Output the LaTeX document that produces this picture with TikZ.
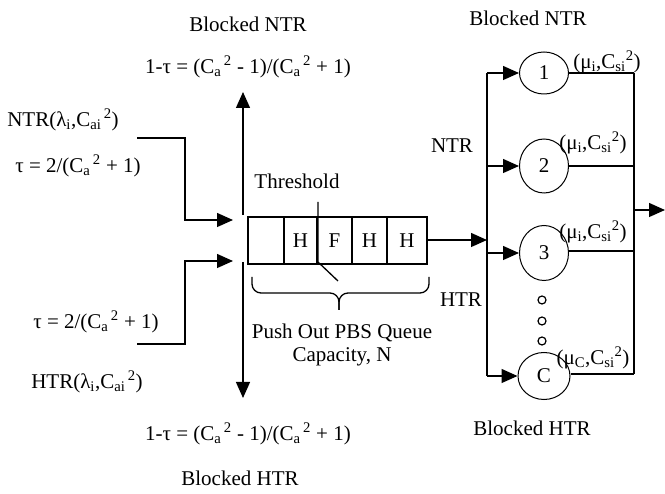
\documentclass[tikz,border=0pt]{standalone}
\usepackage{fontspec}
\setmainfont{Liberation Serif}
\usetikzlibrary{arrows.meta,shapes.geometric}
\newcommand{\Csq}{C\textsubscript{a}\textsuperscript{\,2}}
\newcommand{\muLbl}[1]{(μ\textsubscript{#1},C\textsubscript{si}\textsuperscript{2})}
\begin{document}
\begin{tikzpicture}[x=1pt,y=-1pt,
  every node/.style={font=\fontsize{21}{23}\selectfont, inner sep=0pt},
  conn/.style={line width=1.3pt},
  arr/.style={line width=1.3pt,-{Triangle[length=16pt,width=14pt]}},
  cellbox/.style={draw, line width=1.3pt, minimum height=47pt},
  srv/.style={draw, ellipse, line width=1pt, minimum width=49pt},
  dot/.style={draw, circle, line width=1.2pt, minimum size=8pt},
]
\useasboundingbox (0,0) rectangle (665,494);

% ---- left texts
\node (blkNTRl) at (248,24) {Blocked NTR};
\node (fNTR) at (248,67) {1-τ = (\Csq{} - 1)/(\Csq{} + 1)};
\node (ntrin) at (63,120) {NTR(λ\textsubscript{i},C\textsubscript{ai}\textsuperscript{\,2})};
\node (tauN) at (78,166) {τ = 2/(\Csq{} + 1)};
\node (tauH) at (96,322) {τ = 2/(\Csq{} + 1)};
\node (htrin) at (87,382) {HTR(λ\textsubscript{i},C\textsubscript{ai}\textsuperscript{\,2})};
\node (fHTR) at (248,434) {1-τ = (\Csq{} - 1)/(\Csq{} + 1)};
\node (blkHTRl) at (240,478) {Blocked HTR};

% ---- queue
\node[cellbox, minimum width=36pt] (c0) at (266,240.5) {};
\node[cellbox, minimum width=33pt] (c1) at (300.5,240.5) {H};
\node[cellbox, minimum width=35pt] (c2) at (334.5,240.5) {F};
\node[cellbox, minimum width=35pt] (c3) at (369.5,240.5) {H};
\node[cellbox, minimum width=40pt] (c4) at (407,240.5) {H};
\node (thr) at (297,181) {Threshold};
\node[align=center] (push) at (342,345) {Push Out PBS Queue\\Capacity, N};

\coordinate (th1) at (318,202);
\coordinate (th2) at (318,262);
\coordinate (th3) at (338,281);
\draw[conn] (th1) -- (th2) -- (th3);

% brace
\coordinate (brL) at (252,277);
\coordinate (brR) at (429,277);
\coordinate (brT) at (339,310);
\draw[conn, rounded corners=9pt] (brL) -- (252,293) -- (339,293) -- (brT);
\draw[conn, rounded corners=9pt] (brR) -- (429,293) -- (339,293) -- (brT);

% ---- left arrows
\coordinate (nA) at (137,138);
\coordinate (nB) at (185,138);
\coordinate (nC) at (185,220);
\coordinate (nD) at (233,220);
\draw[arr] (nA) -- (nB) -- (nC) -- (nD);
\coordinate (hA) at (137,344);
\coordinate (hB) at (185,344);
\coordinate (hC) at (185,261);
\coordinate (hD) at (233,261);
\draw[arr] (hA) -- (hB) -- (hC) -- (hD);
\coordinate (upS) at (243,215);
\coordinate (upE) at (243,92);
\draw[arr] (upS) -- (upE);
\coordinate (dnS) at (243,262);
\coordinate (dnE) at (243,398);
\draw[arr] (dnS) -- (dnE);

% ---- servers
\node[srv, minimum height=42pt] (s1) at (544,73) {1};
\node[srv, minimum height=54pt] (s2) at (544,166) {2};
\node[srv, minimum height=55pt] (s3) at (544,253) {3};
\node[srv, minimum width=52pt, minimum height=47pt] (sC) at (544,376) {C};
\node[dot] (d1) at (542,300) {};
\node[dot] (d2) at (542,321) {};
\node[dot] (d3) at (542,341) {};

\node (m1) at (607,62) {\muLbl{i}};
\node (m2) at (593,143) {\muLbl{i}};
\node (m3) at (593,232) {\muLbl{i}};
\node (m4) at (593,358) {\muLbl{C}};

\node (ntrL) at (452,146) {NTR};
\node (htrL) at (461,300) {HTR};
\node (blkNTRr) at (528,18) {Blocked NTR};
\node (blkHTRr) at (532,428) {Blocked HTR};

% ---- bus and connectors
\coordinate (bq) at (487,240);
\coordinate (b1) at (487,73);
\coordinate (b2) at (487,166);
\coordinate (b3) at (487,253);
\coordinate (bC) at (487,376);
\draw[arr] (c4.east |- bq) -- (bq);
\draw[conn] (b1) -- (bC);
\draw[arr] (b1) -- (s1);
\draw[arr] (b2) -- (s2);
\draw[arr] (b3) -- (s3);
\draw[arr] (bC) -- (sC);

\coordinate (o1) at (634,73);
\coordinate (o2) at (634,166);
\coordinate (o3) at (634,251);
\coordinate (oC) at (634,374);
\draw[conn] (s1.east) -- (o1);
\draw[conn] (s2.east) -- (o2);
\draw[conn] (s3.east |- o3) -- (o3);
\draw[conn] (sC.east |- oC) -- (oC);
\draw[conn] (o1) -- (oC);
\coordinate (oM) at (634,210);
\coordinate (oE) at (665,210);
\draw[arr] (oM) -- (oE);
\end{tikzpicture}
\end{document}
